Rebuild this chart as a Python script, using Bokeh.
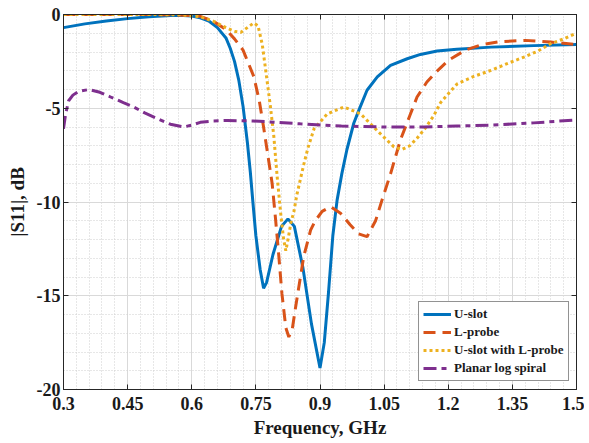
from bokeh.plotting import figure
from bokeh.models import (Range1d, SingleIntervalTicker, LinearAxis, Grid,
                          CustomJSTickFormatter, Legend, LegendItem)
from bokeh.embed import file_html
from bokeh.resources import INLINE

# ---- data ----
freq_uslot = [0.30, 0.35, 0.40, 0.45, 0.50, 0.55, 0.58, 0.60, 0.62, 0.64, 0.66, 0.68,
              0.69, 0.70, 0.71, 0.72, 0.73, 0.737, 0.743, 0.75, 0.76, 0.768, 0.775, 0.79,
              0.81, 0.825, 0.84, 0.86, 0.88, 0.90, 0.91, 0.92, 0.93, 0.94, 0.951, 0.963,
              0.979, 0.991, 1.01, 1.034, 1.065, 1.104, 1.135, 1.174, 1.22, 1.30, 1.40, 1.50]
s11_uslot = [-0.7, -0.5, -0.35, -0.22, -0.12, -0.06, -0.05, -0.08, -0.18, -0.35, -0.7, -1.25,
             -1.8, -2.5, -3.5, -4.9, -6.8, -8.4, -10.0, -11.8, -13.6, -14.6, -14.3, -12.8,
             -11.3, -10.9, -11.3, -13.5, -16.5, -18.85, -17.5, -14.8, -11.8, -9.9, -8.5, -7.2,
             -5.8, -5.1, -4.04, -3.33, -2.71, -2.36, -2.13, -1.95, -1.85, -1.74, -1.66, -1.6]

freq_lprobe = [0.30, 0.40, 0.50, 0.55, 0.60, 0.62, 0.65, 0.68, 0.70, 0.72, 0.745, 0.758,
               0.768, 0.78, 0.788, 0.796, 0.803, 0.811, 0.82, 0.827, 0.835, 0.843, 0.862,
               0.878, 0.889, 0.905, 0.925, 0.948, 0.97, 0.99, 1.01, 1.03, 1.045, 1.065,
               1.088, 1.11, 1.127, 1.15, 1.17, 1.20, 1.24, 1.28, 1.32, 1.38, 1.44, 1.50]
s11_lprobe = [0.0, 0.0, 0.0, -0.02, -0.05, -0.1, -0.35, -0.8, -1.3, -1.9, -3.3, -4.6,
              -6.0, -7.8, -9.0, -10.9, -12.7, -14.9, -16.7, -17.2, -16.8, -15.6, -12.9,
              -11.5, -11.0, -10.5, -10.25, -10.6, -11.2, -11.7, -11.85, -11.0, -9.9, -8.5,
              -6.7, -5.4, -4.4, -3.6, -3.1, -2.45, -1.9, -1.6, -1.45, -1.38, -1.47, -1.6]

freq_combo = [0.30, 0.50, 0.58, 0.62, 0.65, 0.68, 0.70, 0.715, 0.73, 0.745, 0.755, 0.765,
              0.772, 0.784, 0.792, 0.80, 0.808, 0.815, 0.82, 0.826, 0.832, 0.839, 0.846,
              0.855, 0.862, 0.872, 0.886, 0.917, 0.956, 0.995, 1.034, 1.073, 1.092, 1.11,
              1.127, 1.145, 1.166, 1.182, 1.205, 1.221, 1.26, 1.30, 1.34, 1.377, 1.41,
              1.439, 1.47, 1.50]
s11_combo = [0.0, 0.0, -0.02, -0.12, -0.35, -0.7, -0.9, -0.95, -0.7, -0.45, -0.6, -1.6,
             -2.8, -4.9, -6.5, -8.7, -10.6, -12.0, -12.6, -11.9, -11.1, -10.5, -9.6,
             -8.7, -8.0, -7.1, -6.1, -5.3, -4.93, -5.3, -6.2, -7.06, -7.2, -7.0,
             -6.6, -6.1, -5.4, -4.7, -4.1, -3.7, -3.3, -2.98, -2.6, -2.27, -1.95,
             -1.56, -1.3, -1.0]

freq_spiral = [0.30, 0.305, 0.312, 0.322, 0.335, 0.36, 0.385, 0.41, 0.44, 0.464, 0.49,
               0.519, 0.55, 0.581, 0.60, 0.62, 0.65, 0.683, 0.744, 0.80, 0.854, 0.95,
               1.05, 1.143, 1.22, 1.30, 1.40, 1.50]
s11_spiral = [-6.1, -5.3, -4.6, -4.3, -4.1, -4.0, -4.15, -4.4, -4.7, -4.93, -5.25,
              -5.55, -5.85, -6.0, -5.9, -5.75, -5.68, -5.65, -5.68, -5.75, -5.83, -5.95,
              -6.0, -6.0, -5.95, -5.9, -5.78, -5.62]

series_labels = ["U-slot", "L-probe", "U-slot with L-probe", "Planar log spiral"]
series_colors = ["#0072BD", "#D95319", "#EDB120", "#7E2F8E"]

x_label = "Frequency, GHz"
y_label = "|S11|, dB"

FONT = "Liberation Serif"
AX = "#262626"

p = figure(width=584, height=440, output_backend="svg", toolbar_location=None,
           x_range=Range1d(0.3, 1.5), y_range=Range1d(-20, 0),
           x_axis_type=None, y_axis_type=None,
           min_border_left=63, min_border_right=8, min_border_top=14, min_border_bottom=51)
p.background_fill_color = "white"
p.border_fill_color = "white"
p.outline_line_color = AX
p.outline_line_width = 1

xt = SingleIntervalTicker(interval=0.15, num_minor_ticks=5)
yt = SingleIntervalTicker(interval=5, num_minor_ticks=5)
xfmt = CustomJSTickFormatter(code="return tick.toFixed(2).replace(/0+$/,'').replace(/\\.$/,'');")
yfmt = CustomJSTickFormatter(code="return Math.round(tick).toString();")
blank = CustomJSTickFormatter(code="return '';")


def style_axis(ax, show):
    ax.axis_line_color = AX
    ax.major_tick_line_color = AX
    ax.major_tick_in = 5
    ax.major_tick_out = 0
    ax.minor_tick_in = 0
    ax.minor_tick_out = 0
    if show:
        ax.major_label_text_font = FONT
        ax.major_label_text_font_style = "bold"
        ax.major_label_text_font_size = "18px"
        ax.major_label_text_color = "#1a1a1a"
        ax.axis_label_text_font = FONT
        ax.axis_label_text_font_style = "bold"
        ax.axis_label_text_font_size = "19px"
        ax.axis_label_text_color = "#1a1a1a"
    else:
        ax.major_label_text_font_size = "0px"
        ax.major_label_standoff = 0


xb = LinearAxis(ticker=xt, formatter=xfmt, axis_label=x_label)
style_axis(xb, True)
xb.major_label_standoff = 7
xb.axis_label_standoff = 4
p.add_layout(xb, "below")

yl = LinearAxis(ticker=yt, formatter=yfmt, axis_label=y_label)
style_axis(yl, True)
yl.major_label_standoff = 3
yl.axis_label_standoff = 6
p.add_layout(yl, "left")

xa = LinearAxis(ticker=xt, formatter=blank)
style_axis(xa, False)
p.add_layout(xa, "above")
yr = LinearAxis(ticker=yt, formatter=blank)
style_axis(yr, False)
p.add_layout(yr, "right")

gx = Grid(dimension=0, ticker=xt)
gy = Grid(dimension=1, ticker=yt)
for g in (gx, gy):
    g.grid_line_color = "#d9d9d9"
    g.grid_line_width = 1
    g.minor_grid_line_color = "#cfcfcf"
    g.minor_grid_line_dash = "1 2"
    g.minor_grid_line_width = 1
    p.add_layout(g, "center")

r1 = p.line(freq_uslot, s11_uslot, line_color=series_colors[0], line_width=3)
r2 = p.line(freq_lprobe, s11_lprobe, line_color=series_colors[1], line_width=3,
            line_dash="12 7")
r3 = p.line(freq_combo, s11_combo, line_color=series_colors[2], line_width=3,
            line_dash="3 3")
r4 = p.line(freq_spiral, s11_spiral, line_color=series_colors[3], line_width=3,
            line_dash="13 5 5 5")

legend = Legend(items=[LegendItem(label=series_labels[i], renderers=[r])
                       for i, r in enumerate([r1, r2, r3, r4])],
                location=(355, 8))
legend.label_text_font = FONT
legend.label_text_font_style = "bold"
legend.label_text_font_size = "13px"
legend.label_text_color = "#1a1a1a"
legend.glyph_width = 28
legend.glyph_height = 14
legend.label_height = 14
legend.label_standoff = 3
legend.spacing = 2
legend.padding = 4
legend.margin = 0
legend.border_line_color = AX
legend.border_line_width = 1
legend.background_fill_color = "white"
legend.background_fill_alpha = 1
p.add_layout(legend, "center")

open("out.html", "w").write(file_html(p, INLINE))
